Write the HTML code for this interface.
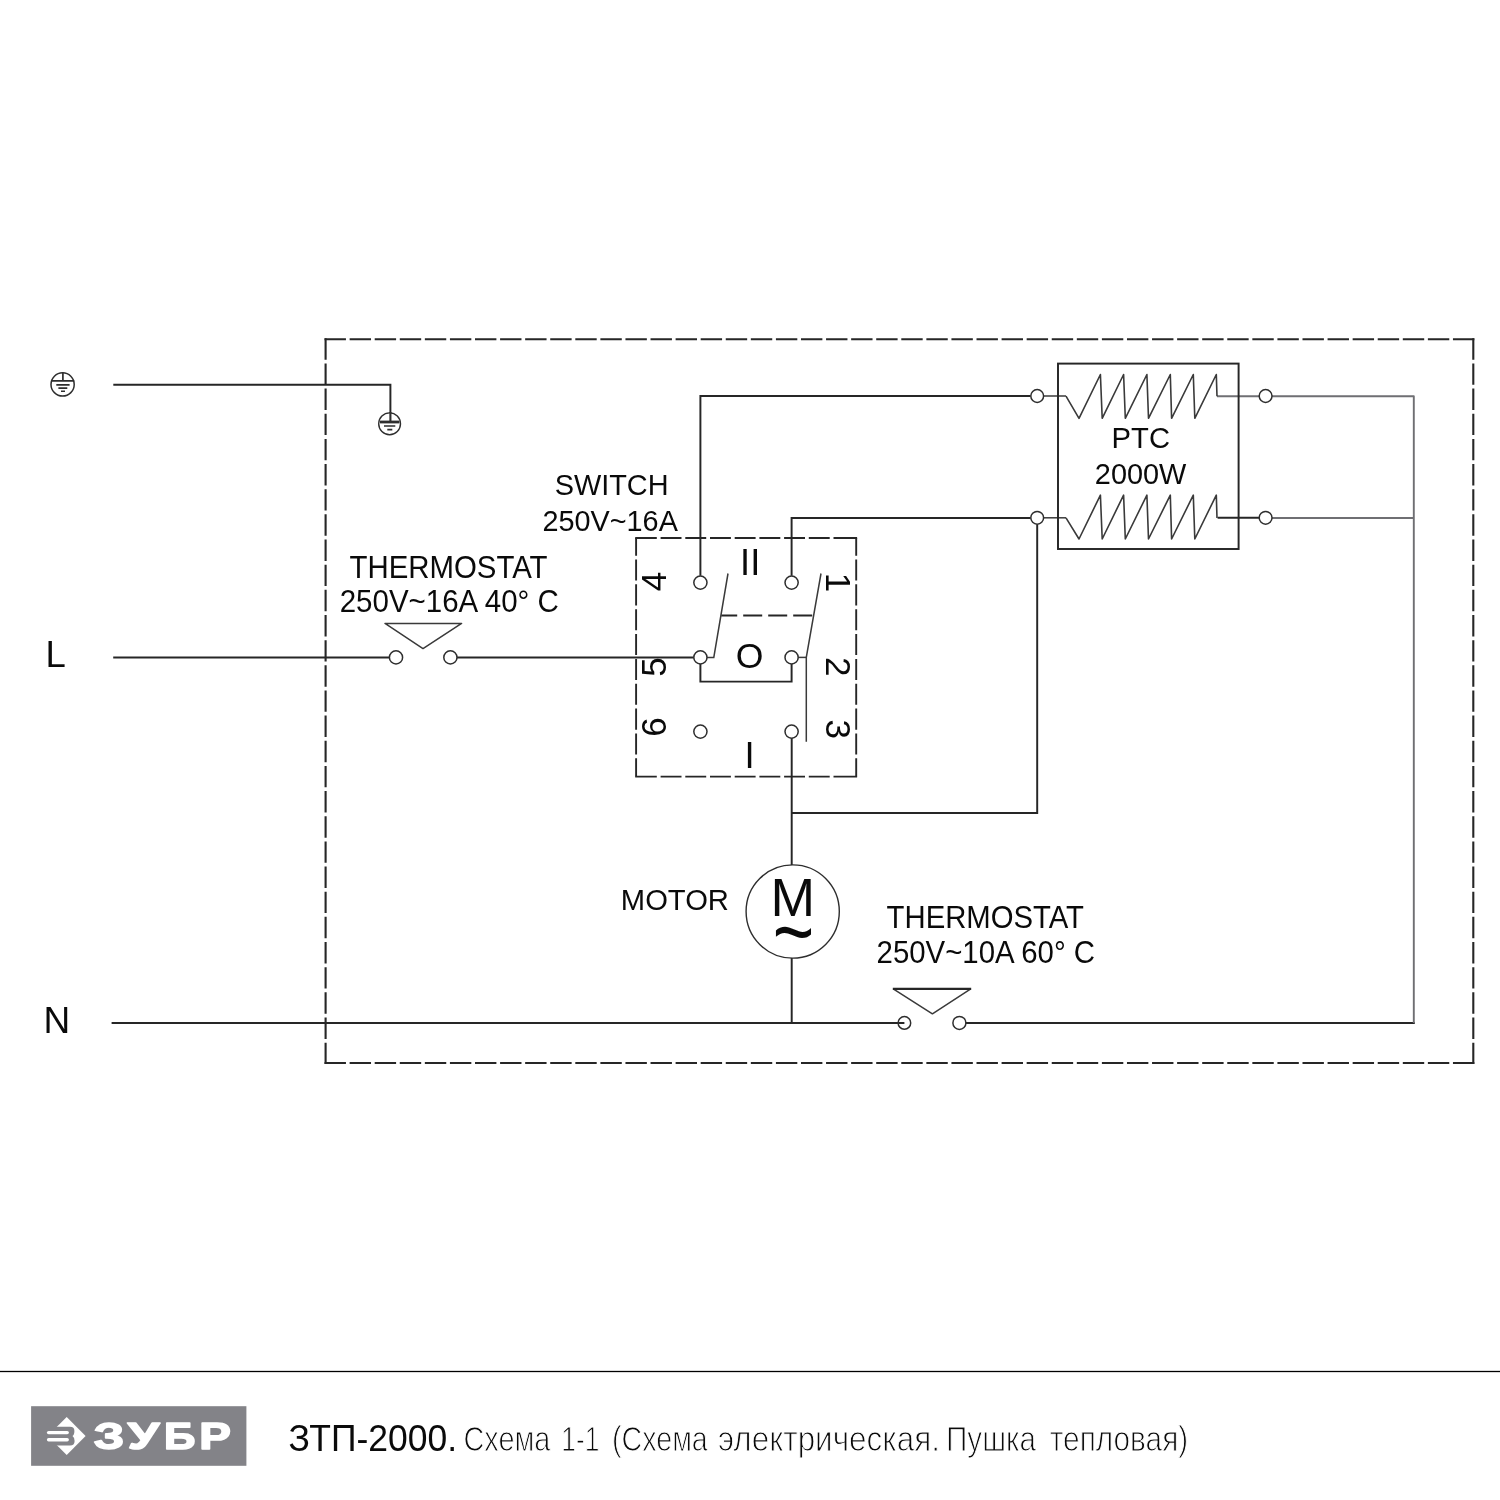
<!DOCTYPE html>
<html lang="ru">
<head>
<meta charset="utf-8">
<title>ЗТП-2000. Схема 1-1</title>
<style>
html,body{margin:0;padding:0;background:#fff;}
body{width:1500px;height:1500px;overflow:hidden;position:relative;font-family:"Liberation Sans",sans-serif;}
svg{position:absolute;left:0;top:0;display:block;will-change:transform;}
svg{font-family:"Liberation Sans",sans-serif;fill:#0a0a0a;}
.lt text{font-family:"Liberation Sans",sans-serif;stroke:#fff;stroke-width:1px;}
.w{stroke:#262626;stroke-width:1.95;fill:none;stroke-linecap:butt;stroke-linejoin:miter;}
.g{stroke:#6f6f73;stroke-width:1.9;fill:none;stroke-linejoin:round;}
.t{stroke:#3a3a3a;stroke-width:1.5;fill:none;}
.term{stroke:#2e2e2e;stroke-width:1.5;fill:#fff;}
.d{stroke:#262626;stroke-width:2.1;fill:none;}
.lbl{font-size:29px;}
.sw{font-size:35px;}
</style>
</head>
<body>
<svg width="1500" height="1500" viewBox="0 0 1500 1500">
<!-- outer dashed enclosure -->
<g class="d" style="stroke-linecap:square">
<path d="M325.6,339.3H1473.3" stroke-dasharray="19.3 5.7756"/>
<path d="M325.6,339.3V1063" stroke-dasharray="19.3 5.857"/>
<path d="M1473.3,339.3V1063" stroke-dasharray="19.3 5.857"/>
<path d="M325.6,1063H1473.3" stroke-dasharray="19.3 5.7756"/>
</g>
<!-- switch dashed box -->
<g class="d">
<g style="stroke-width:1.9">
<path d="M635.2,538H857.1" stroke-dasharray="21.6 3.8 20.9 3.8 20.9 3.8 20.9 3.8 20.9 3.8 20.9 3.8 20.9 3.8 20.9 3.8 30"/>
<path d="M635.2,776.6H857.1" stroke-dasharray="21.6 3.8 20.9 3.8 20.9 3.8 20.9 3.8 20.9 3.8 20.9 3.8 20.9 3.8 20.9 3.8 30"/>
<path d="M636.1,538V776.6" stroke-dasharray="21.05 3.8" stroke-dashoffset="3.35"/>
<path d="M856.2,538V776.6" stroke-dasharray="21.05 3.8" stroke-dashoffset="3.35"/>
</g>
<path d="M721.2,615.5H813.5" stroke-width="1.8" stroke-dasharray="19 6" stroke-dashoffset="3"/>
</g>
<!-- wires -->
<g class="w">
<path d="M113.3,384.8H390.4V413"/>
<path d="M113.2,657.4H389.7"/>
<path d="M456.8,657.4H693.8"/>
<path d="M111.6,1023H904.4"/>
<path d="M965.5,1023H1414.8"/>
<path d="M700.4,575.8V396H1030.6"/>
<path d="M791.6,575.8V518H1030.6"/>
<path d="M1037.2,524.2V813H791.7"/>
<path d="M791.7,738V865.2"/>
<path d="M791.7,957.8V1023"/>
<path d="M700.4,664V681.6H791.6V664"/>
<path d="M1217.6,517.8H1259"/>
</g>
<!-- thin / grey wires -->
<g class="g">
<path d="M1217,396.2H1259"/>
<path d="M1272,396.2H1413.8V1023"/>
<path d="M1272,518H1413.8"/>
</g>
<g class="t">
<path d="M1043.6,396H1066"/>
<path d="M1043.6,517.8H1066"/>
<path d="M707,657.4H713.8L728,573.5"/>
<path d="M798,657.4H806.3"/>
<path d="M821,573.5L806.3,657.4V741.7"/>
</g>
<!-- PTC -->
<rect x="1058" y="363.6" width="180.6" height="185.4" class="w" stroke-width="1.9"/>
<g class="t" style="stroke-linejoin:round;stroke-width:1.6">
<path d="M1066,396.2L1079,418.3L1100.4,374.5L1102.2,418.3L1123.6,374.5L1125.3,418.3L1146.9,374.5L1148.5,418.3L1170.3,374.5L1171.6,418.3L1193.3,374.5L1194.8,418.3L1216.3,374.5L1217,396.2"/>
<path d="M1066,517.9L1079,539L1100.4,495.1L1102.2,539L1123.6,495.1L1125.3,539L1146.9,495.1L1148.5,539L1170.3,495.1L1171.6,539L1193.3,495.1L1194.8,539L1216.3,495.1L1217,518.1"/>
</g>
<!-- thermostat symbols -->
<g class="t" style="stroke-linejoin:round">
<path d="M385,623.4H461.6L423,648.6Z"/>
<path d="M893.6,989.2L932.4,1013.8L970.4,989.2"/>
<path d="M892.8,988.9H971.2" style="stroke:#262626;stroke-width:2.2"/>
</g>
<!-- motor -->
<circle cx="792.7" cy="911.5" r="46.6" stroke="#2e2e2e" stroke-width="1.4" fill="#fff"/>
<!-- terminals -->
<g class="term">
<circle cx="396" cy="657.4" r="6.6"/>
<circle cx="450.4" cy="657.4" r="6.6"/>
<circle cx="700.4" cy="582.6" r="6.6"/>
<circle cx="791.6" cy="582.6" r="6.6"/>
<circle cx="700.4" cy="657.4" r="6.6"/>
<circle cx="791.6" cy="657.4" r="6.6"/>
<circle cx="700.4" cy="731.6" r="6.6"/>
<circle cx="791.6" cy="731.6" r="6.6"/>
<circle cx="1037.2" cy="396" r="6.4"/>
<circle cx="1037.2" cy="517.8" r="6.4"/>
<circle cx="1265.6" cy="396" r="6.4"/>
<circle cx="1265.6" cy="517.8" r="6.4"/>
<circle cx="904.4" cy="1022.9" r="6.3" style="fill:none"/>
<circle cx="959.4" cy="1022.9" r="6.5"/>
</g>
<!-- earth symbols -->
<g stroke="#2e2e2e" fill="none">
<circle cx="62.6" cy="384.4" r="11.6" stroke-width="1.5" fill="#fff"/>
<path d="M62.9,372.6V380.9M51.4,380.9H74.2" stroke-width="1.7"/>
<path d="M56.3,384.9H69.6M58.4,388.1H67.3M61,391.3H65" stroke-width="1.6"/>
<circle cx="389.6" cy="423.8" r="10.9" stroke-width="1.4"/>
<path d="M390.4,412V422" stroke-width="2.1"/>
<path d="M380,422H399.4" stroke-width="2.8"/>
<path d="M384,426H395.3M387.3,429.6H392.3" stroke-width="1.6"/>
</g>
<!-- labels -->
<g text-anchor="middle">
<text transform="translate(448.5,578) scale(1,1.04)" font-size="29.4">THERMOSTAT</text>
<text transform="translate(449.3,612) scale(1,1.04)" font-size="29.5">250V~16A 40° C</text>
<text transform="translate(611.6,495.2) scale(1,1.04)" font-size="28.9">SWITCH</text>
<text transform="translate(610.2,530.7) scale(1,1.04)" font-size="28.8">250V~16A</text>
<text transform="translate(1140.8,448.4) scale(1,1.04)" font-size="29.2">PTC</text>
<text transform="translate(1140.6,483.6) scale(1,1.04)" font-size="28.9">2000W</text>
<text transform="translate(674.9,910.4) scale(1,1.04)" font-size="29.2">MOTOR</text>
<text transform="translate(985.3,928.4) scale(1,1.04)" font-size="29.3">THERMOSTAT</text>
<text transform="translate(985.8,963) scale(1,1.04)" font-size="29.4">250V~10A 60° C</text>
</g>
<text x="45.5" y="666.8" font-size="36.5">L</text>
<text x="43.6" y="1033" font-size="37">N</text>
<text x="792.7" y="915.6" font-size="53.5" text-anchor="middle">M</text>
<text transform="translate(793.4,932.9) scale(1,1.27)" y="23.85" font-size="71" text-anchor="middle">~</text>
<g class="sw" text-anchor="middle">
<text x="750.2" y="575.3" font-size="36.3">II</text>
<text x="749.6" y="668.2" font-size="35.6">O</text>
<text x="749.6" y="768" font-size="36.5">I</text>
<text transform="translate(653.8,581.6) rotate(-90)" y="12.4">4</text>
<text transform="translate(653.8,667) rotate(-90)" y="12.4">5</text>
<text transform="translate(653.8,727) rotate(-90)" y="12.4">6</text>
<text transform="translate(838.4,582.6) rotate(90)" y="12.4">1</text>
<text transform="translate(838.4,666.7) rotate(90)" y="12.4">2</text>
<text transform="translate(838.4,729.3) rotate(90)" y="12.4">3</text>
</g>
<!-- footer -->
<rect x="0" y="1370.85" width="1500" height="1.3" fill="#000"/>
<rect x="31.1" y="1406.2" width="215.3" height="59.6" fill="#838388"/>
<g>
<path d="M66.7,1416.9L85.6,1436.1L66.7,1455.1L47.6,1436.1Z" fill="#fff"/>
<path d="M40,1426.8H70Q74.4,1426.8 74.4,1431Q74.4,1435 72.5,1436.1Q74.6,1437.5 74.6,1441Q74.6,1445.5 70,1445.5H40Z" fill="#838388"/>
<rect x="46.9" y="1430.9" width="22" height="3.4" rx="1.7" fill="#fff"/>
<rect x="46.9" y="1438" width="22" height="3.4" rx="1.7" fill="#fff"/>
</g>
<g font-weight="bold" font-size="37" style="fill:#fff;stroke:#fff;stroke-width:1.6px;stroke-linejoin:round">
<text x="93.7" y="1448.6" textLength="30.4" lengthAdjust="spacingAndGlyphs" style="fill:#fff">З</text>
<text x="127.8" y="1448.6" textLength="31.6" lengthAdjust="spacingAndGlyphs" style="fill:#fff">У</text>
<text x="163.9" y="1448.6" textLength="31.4" lengthAdjust="spacingAndGlyphs" style="fill:#fff">Б</text>
<text x="199.3" y="1448.6" textLength="31.6" lengthAdjust="spacingAndGlyphs" style="fill:#fff">Р</text>
</g>
<text transform="translate(288.6,1450.6) scale(1,1.04)" font-size="36.3" textLength="168.4" lengthAdjust="spacingAndGlyphs">ЗТП-2000.</text>
<g font-size="33.5" class="lt">
<text transform="translate(463.5,1450.6) scale(1,1.04)" textLength="86.9" lengthAdjust="spacingAndGlyphs">Схема</text>
<text transform="translate(561.2,1450.6) scale(1,1.04)" textLength="38.2" lengthAdjust="spacingAndGlyphs">1-1</text>
<text transform="translate(612.0,1450.6) scale(1,1.04)" textLength="95.8" lengthAdjust="spacingAndGlyphs">(Схема</text>
<text transform="translate(718.0,1450.6) scale(1,1.04)" textLength="221.9" lengthAdjust="spacingAndGlyphs">электрическая.</text>
<text transform="translate(946.0,1450.6) scale(1,1.04)" textLength="90.1" lengthAdjust="spacingAndGlyphs">Пушка</text>
<text transform="translate(1049.8,1450.6) scale(1,1.04)" textLength="138.4" lengthAdjust="spacingAndGlyphs">тепловая)</text>
</g>
</svg>
</body>
</html>
